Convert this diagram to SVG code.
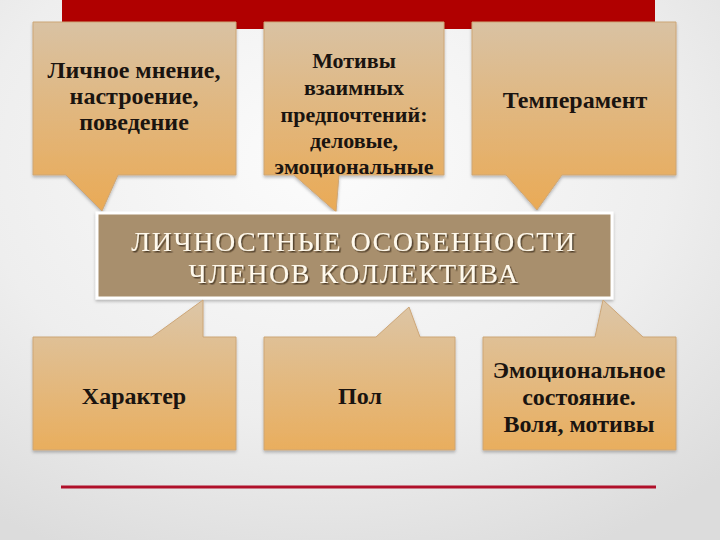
<svg xmlns="http://www.w3.org/2000/svg" width="720" height="540" viewBox="0 0 720 540">
<defs>
<radialGradient id="bg" cx="0.45" cy="0.3" r="0.8">
<stop offset="0" stop-color="#FCFCFC"/>
<stop offset="0.6" stop-color="#EEEEEE"/>
<stop offset="1" stop-color="#DCDCDC"/>
</radialGradient>
<linearGradient id="gTop" gradientUnits="userSpaceOnUse" x1="0" y1="22" x2="0" y2="212">
<stop offset="0" stop-color="#D9C2A3"/>
<stop offset="1" stop-color="#EAAA55"/>
</linearGradient>
<linearGradient id="gBot" gradientUnits="userSpaceOnUse" x1="0" y1="300" x2="0" y2="450">
<stop offset="0" stop-color="#DCC6A8"/>
<stop offset="1" stop-color="#E9AE5E"/>
</linearGradient>
<filter id="sh" x="-10%" y="-10%" width="120%" height="130%">
<feDropShadow dx="0" dy="2" stdDeviation="1.5" flood-color="#000" flood-opacity="0.25"/>
</filter>
<filter id="tsh" x="-5%" y="-20%" width="110%" height="140%">
<feDropShadow dx="1.5" dy="1.5" stdDeviation="0.6" flood-color="#3A2A15" flood-opacity="0.8"/>
</filter>
</defs>
<style>
.top{fill:url(#gTop);stroke:#CDA677;stroke-width:1;filter:url(#sh)}
.bot{fill:url(#gBot);stroke:#CDA677;stroke-width:1;filter:url(#sh)}
.t{font-family:"Liberation Serif","Times New Roman",serif;font-weight:bold;font-size:24px;fill:#1A1410;text-anchor:middle}
.s{font-size:22px}
.c{font-family:"Liberation Serif","Times New Roman",serif;font-size:28px;letter-spacing:1.5px;fill:#FFF9EC;text-anchor:middle;filter:url(#tsh)}
</style>
<rect width="720" height="540" fill="url(#bg)"/>
<rect id="redbar" x="62" y="0" width="593" height="29" fill="#B00000"/>
<line id="redline" x1="61" y1="487" x2="656" y2="487" stroke="#B0102A" stroke-width="3"/>
<g id="connectors"></g>
<g id="n1">
<path class="top" d="M33,22 H236 V175 H118 L102,211 L66,175 H33 Z"/>
<text class="t" x="134" y="78">Личное мнение,</text>
<text class="t" x="134" y="104">настроение,</text>
<text class="t" x="134" y="130">поведение</text>
</g>
<g id="n2">
<path class="top" d="M264,22 H444 V175 H339 L336,212 L294,175 H264 Z"/>
<text class="t s" x="354" y="68">Мотивы</text>
<text class="t s" x="354" y="95">взаимных</text>
<text class="t s" x="354" y="122">предпочтений:</text>
<text class="t s" x="354" y="148">деловые,</text>
<text class="t s" x="354" y="174">эмоциональные</text>
</g>
<g id="n3">
<path class="top" d="M472,22 H676 V175 H562 L537,210 L506,175 H472 Z"/>
<text class="t" x="575" y="108">Темперамент</text>
</g>
<g id="center">
<rect x="97" y="213" width="515" height="85" fill="#A88F6D" stroke="#FFFFFF" stroke-width="3" filter="url(#sh)"/>
<text class="c" x="354" y="251">ЛИЧНОСТНЫЕ  ОСОБЕННОСТИ</text>
<text class="c" x="354" y="283">ЧЛЕНОВ  КОЛЛЕКТИВА</text>
</g>
<g id="n4">
<path class="bot" d="M33,337 H152 L203,300 V337 H236 V450 H33 Z"/>
<text class="t" x="134" y="404">Характер</text>
</g>
<g id="n5">
<path class="bot" d="M264,337 H376 L409,307 L420,337 H455 V450 H264 Z"/>
<text class="t" x="360" y="404">Пол</text>
</g>
<g id="n6">
<path class="bot" d="M483,337 H595 L603,300 L643,337 H676 V450 H483 Z"/>
<text class="t" x="579" y="378">Эмоциональное</text>
<text class="t" x="579" y="405">состояние.</text>
<text class="t" x="579" y="432">Воля, мотивы</text>
</g>
</svg>
